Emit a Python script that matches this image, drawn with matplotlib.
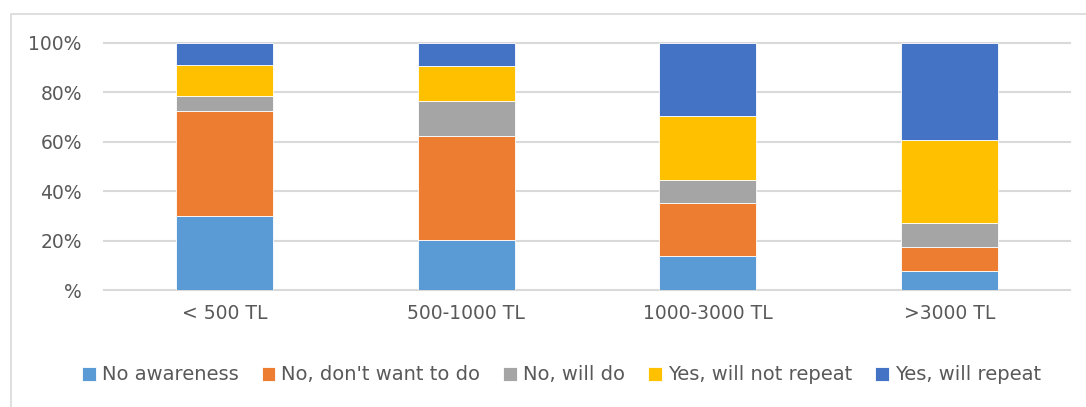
import numpy as np
import matplotlib
matplotlib.use("Agg")
import matplotlib.pyplot as plt
from matplotlib.patches import Rectangle
from matplotlib.ticker import FuncFormatter

# Data (shares in %)
categories = ['< 500 TL', '500-1000 TL', '1000-3000 TL', '>3000 TL']
series_names = ['No awareness', "No, don't want to do", 'No, will do',
                'Yes, will not repeat', 'Yes, will repeat']
no_awareness = [30.0, 20.2, 13.6, 7.6]
no_dont_want = [42.5, 42.2, 21.7, 9.7]
no_will_do = [6.1, 13.9, 9.3, 9.7]
yes_not_repeat = [12.3, 14.1, 25.6, 33.7]
yes_repeat = [9.1, 9.6, 29.8, 39.3]
colors = ['#5B9BD5', '#ED7D31', '#A5A5A5', '#FFC000', '#4472C4']

text_color = '#595959'
grid_color = '#D9D9D9'

fig = plt.figure(figsize=(10.86, 4.07), dpi=100)
ax = fig.add_axes([104 / 1086, 1 - 290 / 407, (1070 - 104) / 1086, (290 - 42.7) / 407])

# light frame around the chart area
fig.patches.append(Rectangle((11 / 1086, -0.1), 1.2, 1 - 14 / 407 + 0.1,
                             transform=fig.transFigure, fill=False,
                             edgecolor=grid_color, linewidth=1.2))

x = np.arange(len(categories))
bottom = np.zeros(len(categories))
for name, vals, col in zip(series_names,
                           [no_awareness, no_dont_want, no_will_do, yes_not_repeat, yes_repeat],
                           colors):
    vals = np.array(vals)
    ax.bar(x, vals, 0.4, bottom=bottom, color=col, label=name,
           edgecolor='white', linewidth=0.6, zorder=3)
    bottom += vals

ax.set_xlim(-0.5, len(categories) - 0.5)
ax.set_ylim(0, 100)
ax.set_yticks(range(0, 101, 20))
ax.yaxis.set_major_formatter(FuncFormatter(lambda v, p: '%' if v == 0 else f'{int(v)}%'))
ax.set_xticks(x)
ax.set_xticklabels(categories)
ax.tick_params(axis='both', length=0, labelsize=13.5, colors=text_color)
ax.tick_params(axis='y', pad=16)
ax.tick_params(axis='x', pad=10)
ax.grid(axis='y', color=grid_color, linewidth=1.5, zorder=0)
for gl in ax.get_ygridlines():
    gl.set_clip_on(False)
for s in ax.spines.values():
    s.set_visible(False)

fig.legend(loc='center', bbox_to_anchor=(0.517, 1 - 375 / 407), ncol=5,
           frameon=False, fontsize=14, labelcolor=text_color,
           handlelength=0.7, handleheight=0.7, handletextpad=0.3,
           columnspacing=1.2)

fig.savefig('out.png', dpi=100)
